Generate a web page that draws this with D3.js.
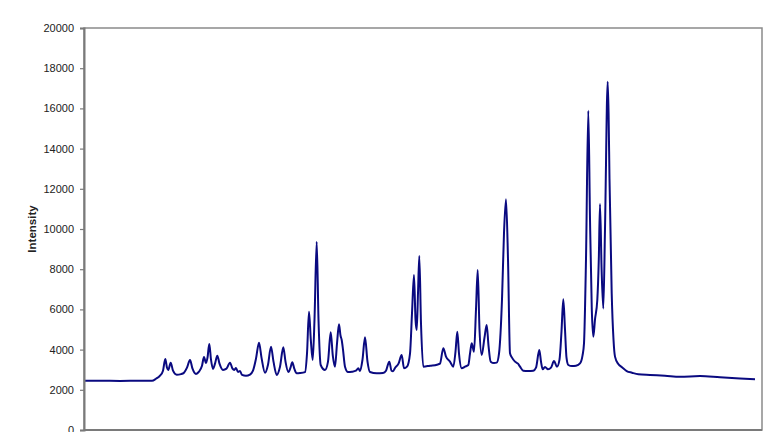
<!DOCTYPE html>
<html>
<head>
<meta charset="utf-8">
<script src="https://cdn.jsdelivr.net/npm/d3@7"></script>
<style>
  html, body { margin: 0; padding: 0; background: #fff; }
  svg { display: block; }
</style>
</head>
<body>
<svg id="chart" width="768" height="432"></svg>
<script>
// Scan position (arbitrary units along the run)
const scan = [
  0, 16, 36, 56, 68, 72, 76, 79, 81.3, 83,
  84.3, 86.7, 89, 92.7, 97, 100, 103, 106, 108.5, 112,
  115, 118, 120, 122, 123.5, 125.3, 127, 129, 131, 133.3,
  135.5, 139, 142.5, 146, 148.5, 150.3, 152, 154, 156, 158,
  162, 166, 169, 172, 175, 177.5, 181, 184, 187, 189.5,
  192.7, 196, 199.3, 201.5, 204.3, 206.5, 208.3, 210.3, 212.7, 216,
  221, 223, 225, 226.8, 228.7, 230.5, 232.7, 234.5, 236.7, 241,
  244, 246.7, 248.8, 251, 253, 255, 256.5, 257.7, 259, 261,
  264, 268, 272, 274.3, 276, 278.5, 281, 283.5, 286, 292.7,
  299, 302, 305.3, 307.5, 309, 311, 314.5, 317.7, 320, 323,
  326, 328, 330, 331.5, 332.7, 334, 335.3, 337, 339.3, 346,
  353, 356, 359.3, 362, 366, 369.3, 371.5, 373.3, 375, 377.7,
  381, 384.3, 386, 387.7, 390, 392, 393.7, 395.5, 397.7, 400.5,
  402.7, 404.5, 406.7, 410, 412.7, 415, 418, 420, 422, 424,
  426, 428, 431, 434, 436, 439.3, 444, 449.3, 452, 455.3,
  457, 458.7, 461, 464, 467, 470, 473, 475.5, 477.5, 479.3,
  481, 482.5, 484.3, 488, 492, 496, 498.5, 500, 502, 504.3,
  506, 507.8, 509.3, 511, 513.3, 514.8, 516, 517.6, 519.3, 521,
  523.7, 524.6, 525.5, 527.7, 529.5, 531, 534.3, 538, 542.7, 548,
  554.3, 566, 581, 596, 616, 636, 656, 671
];

// Detector intensity at each scan position
const intensity = [
  2450, 2450, 2440, 2450, 2450, 2550, 2700, 2950, 3530, 3100,
  2990, 3350, 2950, 2750, 2780, 2850, 3100, 3480, 3050, 2790,
  2900, 3200, 3630, 3330, 3600, 4280, 3500, 3040, 3300, 3700,
  3300, 2990, 3050, 3350, 3050, 2990, 3085, 2885, 2935, 2740,
  2700, 2760, 2950, 3550, 4340, 3600, 2850, 3250, 4145, 3400,
  2740, 3150, 4115, 3400, 2885, 3100, 3370, 3050, 2820, 2830,
  2880, 3800, 5885, 4500, 3480, 5500, 9370, 5500, 3234, 2985,
  3400, 4860, 3700, 3150, 4300, 5260, 4700, 4480, 4000, 3150,
  2885, 2900, 2950, 3070, 2935, 3500, 4610, 3400, 2885, 2820,
  2835, 2950, 3400, 2950, 2920, 3085, 3300, 3730, 3070, 3150,
  3800, 5800, 7710, 5500, 4975, 6800, 8660, 5300, 3150, 3200,
  3250, 3300, 4070, 3650, 3400, 3150, 3900, 4890, 3800, 3070,
  3150, 3234, 3800, 4310, 3895, 6000, 7960, 5000, 3730, 4600,
  5225, 4200, 3400, 3330, 3350, 3800, 6500, 9800, 11480, 8500,
  3815, 3600, 3400, 3300, 3150, 2950, 2930, 2950, 3100, 3980,
  3400, 3020, 3135, 3020, 3100, 3430, 3150, 3500, 4900, 6500,
  5000, 3600, 3234, 3180, 3200, 3315, 3700, 4310, 8500, 15885,
  10500, 6000, 4640, 5500, 6470, 8500, 11240, 8000, 6050, 10000,
  17330, 15700, 12500, 6800, 4500, 3650, 3280, 3120, 2935, 2850,
  2770, 2736, 2700, 2650, 2685, 2620, 2560, 2520
];

const yTicks = [0, 2000, 4000, 6000, 8000, 10000, 12000, 14000, 16000, 18000, 20000];
const yTitle = "Intensity";
const scanDomain = [0, 678];
const intensityDomain = [0, 20000];

const svg = d3.select("#chart");
const W = 768, H = 432;
const margin = { left: 84, right: 6, top: 28, bottom: 2 };
const pw = W - margin.left - margin.right;
const ph = H - margin.top - margin.bottom;

const x = d3.scaleLinear().domain(scanDomain).range([margin.left, margin.left + pw]);
const y = d3.scaleLinear().domain(intensityDomain).range([margin.top + ph, margin.top]);

// Plot area frame
svg.append("rect")
  .attr("x", margin.left).attr("y", margin.top)
  .attr("width", pw).attr("height", ph)
  .attr("fill", "#fff")
  .attr("stroke", "#8a8a8a").attr("stroke-width", 1.5);

// Trace
const data = scan.map((s, i) => ({ s, v: intensity[i] }));
const line = d3.line().x(d => x(d.s)).y(d => y(d.v)).curve(d3.curveMonotoneX);
svg.append("path")
  .datum(data)
  .attr("d", line)
  .attr("fill", "none")
  .attr("stroke", "#0a0a80")
  .attr("stroke-width", 2)
  .attr("stroke-linejoin", "round");

// Y axis
const yAxis = d3.axisLeft(y).tickValues(yTicks).tickSize(4).tickPadding(6).tickFormat(d3.format("d"));
const gy = svg.append("g").attr("transform", `translate(${margin.left},0)`).call(yAxis);
gy.select(".domain").attr("stroke", "#7a7a7a").attr("stroke-width", 2);
gy.selectAll(".tick line").attr("stroke", "#7a7a7a").attr("stroke-width", 1.2);
gy.selectAll(".tick text")
  .attr("fill", "#222")
  .style("font-family", "Arial, 'Liberation Sans', sans-serif")
  .style("font-size", "11px");

// X axis line (labels fall below the visible area)
svg.append("line")
  .attr("x1", margin.left).attr("x2", margin.left + pw)
  .attr("y1", y(0)).attr("y2", y(0))
  .attr("stroke", "#7a7a7a").attr("stroke-width", 2);

// Y title
svg.append("text")
  .attr("transform", `translate(36,${margin.top + ph / 2}) rotate(-90)`)
  .attr("text-anchor", "middle")
  .attr("fill", "#222")
  .style("font-family", "Arial, 'Liberation Sans', sans-serif")
  .style("font-size", "11.5px")
  .style("font-weight", "bold")
  .text(yTitle);
</script>
</body>
</html>
